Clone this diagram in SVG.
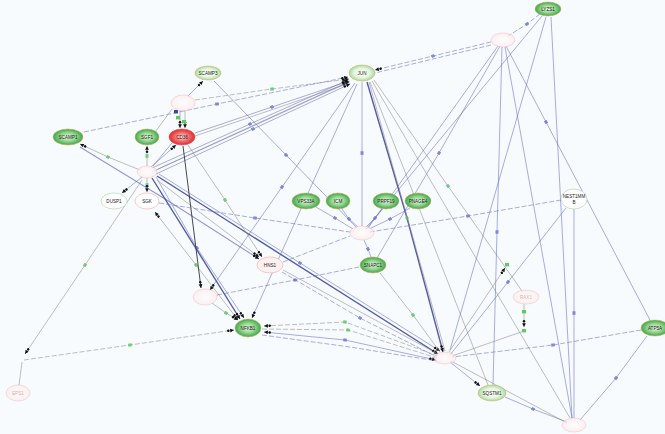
<svg xmlns="http://www.w3.org/2000/svg" width="665" height="434" viewBox="0 0 665 434">
<style>
.e{fill:none;stroke-width:.8}
.bl{stroke:#5a62c4;stroke-opacity:.65}
.bk{stroke:#2c3494;stroke-width:1.4;stroke-opacity:.8}
.gr{stroke:#8a8a8a;stroke-opacity:.7}
.kk{stroke:#333;stroke-width:.9}
.da{stroke-dasharray:5 2}
.mb{marker-mid:url(#sq)}
.mg{marker-mid:url(#sqg)}
.ar{marker-end:url(#arr)}
.as{marker-start:url(#arrs)}
.ng{fill:url(#gG);stroke:#d2b46a;stroke-width:.6}
.nl{fill:url(#gL);stroke:#c9b978;stroke-width:.6}
.nr{fill:url(#gR);stroke:#e65a5a;stroke-width:.6}
.np{fill:url(#gP);stroke:#f0b0b0;stroke-width:.6;opacity:.7}
.nw{fill:#fff;stroke:#b9d9a8;stroke-width:.7}
.nwp{fill:#fff;stroke:#f0b4b4;stroke-width:.7}
text{font-family:"Liberation Sans",Arial,sans-serif;font-size:4.6px;fill:#222;text-anchor:middle}
.tp{fill:#e8a8a8}
.gs{fill:#62c862}
</style>
<defs>
<radialGradient id="gG"><stop offset="0" stop-color="#eaf7e4"/><stop offset=".55" stop-color="#94d48d"/><stop offset="1" stop-color="#3aa64a"/></radialGradient>
<radialGradient id="gL"><stop offset="0" stop-color="#ffffff"/><stop offset=".6" stop-color="#e6f5de"/><stop offset="1" stop-color="#a8da9e"/></radialGradient>
<radialGradient id="gR"><stop offset="0" stop-color="#ffe4e4"/><stop offset=".5" stop-color="#f47272"/><stop offset="1" stop-color="#de2a2a"/></radialGradient>
<radialGradient id="gP"><stop offset="0" stop-color="#ffffff"/><stop offset="1" stop-color="#fdeaea"/></radialGradient>
<marker id="sq" viewBox="0 0 4 4" refX="2" refY="2" markerWidth="3.6" markerHeight="3.6" markerUnits="userSpaceOnUse" orient="auto"><rect width="4" height="3.4" y=".3" fill="#6b73d6" opacity=".8"/></marker>
<marker id="sqg" viewBox="0 0 4 4" refX="2" refY="2" markerWidth="3.6" markerHeight="3.6" markerUnits="userSpaceOnUse" orient="auto"><rect width="4" height="3.4" y=".3" fill="#62c862" opacity=".85"/></marker>
<marker id="arr" viewBox="0 0 10 6" refX="10" refY="3" markerWidth="7" markerHeight="4.2" markerUnits="userSpaceOnUse" orient="auto"><circle cx="1.8" cy="3" r="1.8" fill="#111"/><path d="M4.5,0.3 L10,3 L4.5,5.7 z" fill="#111"/></marker>
<marker id="arrs" viewBox="0 0 10 6" refX="0" refY="3" markerWidth="7" markerHeight="4.2" markerUnits="userSpaceOnUse" orient="auto"><circle cx="8.2" cy="3" r="1.8" fill="#111"/><path d="M5.5,0.3 L0,3 L5.5,5.7 z" fill="#111"/></marker>
</defs>
<rect width="665" height="434" fill="#f8fbfd"/>
<g id="connectors">
<path class="e bl da mb ar" d="M84,132 L217,104 L348,77"/>
<path class="e gr da mg ar" d="M195,100 L272,89 L349,79"/>
<path class="e gr" d="M156,131 L172,109"/>
<path class="e bl ar" d="M188,96 L203,81"/>
<path class="e bl mb" d="M214,81 L286,155 L357,228"/>
<path class="e bl mb ar" d="M152,168 L250,124 L348,80"/>
<path class="e bl ar" d="M154,171 L251,127 L349,82"/>
<path class="e bl mb ar" d="M156,174 L253,129 L350,84"/>
<path class="e gr" d="M158,169 L254,125 L350,81"/>
<path class="e bl mb ar" d="M195,133 L272,107 L349,81"/>
<path class="e gr" d="M195,136 L350,83"/>
<path class="e gr mg ar" d="M147,166 L147,156 L147,146"/>
<path class="e bl ar" d="M151,167 L176,145"/>
<path class="e bl" d="M172,143 L153,166"/>
<path class="e bl ar" d="M180,110 L180,128"/>
<path class="e gr ar" d="M185,110 L185,128"/>
<path class="e bl ar" d="M142,177 L122,193"/>
<path class="e gr mg ar" d="M147,178 L147,185 L147,192"/>
<path class="e gr mg as" d="M80,144 L108,157 L140,170"/>
<path class="e bl ar" style="stroke-width:1.1" d="M80,147 L170,202 L259,259"/>
<path class="e gr mg ar" d="M142,180 L85,265 L25,354"/>
<path class="e gr da mg ar" d="M24,360 L130,345 L234,330"/>
<path class="e gr" d="M22,362 L19,385"/>
<path class="e bk ar" d="M152,178 L240,319"/>
<path class="e bl mb ar" d="M156,177 L197,248 L244,318"/>
<path class="e bk ar" d="M157,176 L438,354"/>
<path class="e bl mb ar" d="M159,174 L300,263 L440,351"/>
<path class="e gr ar" d="M157,180 L259,257"/>
<path class="e gr mg ar as" d="M155,212 L196,265 L238,320"/>
<path class="e kk ar" d="M183,146 L201,288"/>
<path class="e gr mg ar" d="M188,145 L225,200 L262,257"/>
<path class="e bl mb ar" d="M355,83 L282,187 L210,290"/>
<path class="e bl ar" d="M357,84 L252,318"/>
<path class="e bl mb" d="M362,82 L362,153 L362,226"/>
<path class="e bk mg ar" d="M367,82 L407,218 L443,352"/>
<path class="e gr" d="M372,81 L570,418"/>
<path class="e gr" d="M370,82 L488,385"/>
<path class="e gr mg" d="M374,80 L448,186 L522,291"/>
<path class="e gr" d="M369,82 L445,351"/>
<path class="e bl da mb ar" d="M491,42 L433,56 L375,70"/>
<path class="e bl da" d="M491,45 L375,73"/>
<path class="e bl da mb" d="M540,14 L527,24 L508,36"/>
<path class="e bl" d="M542,16 L366,229"/>
<path class="e bl" d="M498,46 L368,228"/>
<path class="e bl" d="M546,17 L450,350"/>
<path class="e bl" d="M551,17 L572,418"/>
<path class="e bl mb" d="M502,47 L497,232 L493,385"/>
<path class="e bl mb" d="M506,46 L546,122 L650,320"/>
<path class="e bl" d="M505,47 L572,418"/>
<path class="e bl mb" d="M500,46 L439,153 L377,258"/>
<path class="e bl mb" d="M574,209 L574,313 L574,418"/>
<path class="e bl mb" d="M566,208 L508,282 L450,355"/>
<path class="e bl da mb" d="M561,200 L468,216 L370,232"/>
<path class="e bl da mb" d="M641,330 L553,345 L452,357"/>
<path class="e bl mb" d="M647,336 L616,378 L580,420"/>
<path class="e bl ar" d="M450,362 L480,386"/>
<path class="e bl mb" d="M505,397 L533,409 L567,422"/>
<path class="e gr" d="M451,361 L567,423"/>
<path class="e gr ar" d="M524,304 L524,327"/>
<path class="e gr" d="M524,331 L452,356"/>
<path class="e gr ar" d="M449,352 L505,268"/>
<path class="e gr da mg as" d="M264,326 L345,322 L438,356"/>
<path class="e gr da mg" d="M262,329 L348,330 L437,358"/>
<path class="e bl mb ar as" d="M264,332 L345,340 L436,360"/>
<path class="e bl da" d="M262,335 L350,347 L437,361"/>
<path class="e gr mg ar" d="M212,303 L226,313 L238,320"/>
<path class="e bl da mb" d="M217,295 L295,280 L359,267"/>
<path class="e bl da mb" d="M159,203 L255,218 L350,232"/>
<path class="e bl da" d="M283,262 L350,236"/>
<path class="e bl mb" d="M316,207 L335,218 L353,229"/>
<path class="e bl mb" d="M342,209 L349,219 L358,227"/>
<path class="e bl mb" d="M382,209 L375,218 L366,227"/>
<path class="e bl mb" d="M410,208 L390,219 L369,229"/>
<path class="e bl mb" d="M371,257 L368,249 L364,240"/>
<path class="e gr mg" d="M380,273 L413,315 L440,352"/>
<path class="e gr" d="M283,270 L438,354"/>
<path class="e bl da mb" d="M282,272 L360,318 L437,357"/>
<rect class="gs" x="522" y="310" width="4" height="3.4"/>
<rect class="gs" x="522" y="329" width="4" height="3.4"/>
<rect class="gs" x="505" y="263" width="4" height="3.4"/>
<rect class="gs" x="176" y="116" width="4" height="3.4"/>
<rect class="gs" x="182" y="120" width="4" height="3.4"/>
<rect x="174" y="110" width="4" height="3.4" fill="#3a44b0"/>
</g>
<g id="P2"><ellipse class="np" cx="183" cy="103" rx="12" ry="8"/></g>
<g id="H1"><ellipse class="np" cx="147" cy="172" rx="10" ry="6"/></g>
<g id="P1"><ellipse class="np" cx="503" cy="40" rx="12" ry="7"/></g>
<g id="P3"><ellipse class="np" cx="362" cy="233" rx="12" ry="7"/></g>
<g id="P4"><ellipse class="np" cx="205" cy="297" rx="12" ry="8"/></g>
<g id="P5"><ellipse class="np" cx="445" cy="358" rx="11" ry="6"/></g>
<g id="P6"><ellipse class="np" cx="574" cy="425" rx="12" ry="7"/></g>
<g id="LYZS1"><ellipse class="ng" cx="548" cy="9" rx="13" ry="7"/><text x="548" y="10.7">LYZS1</text></g>
<g id="SCAMP3"><ellipse class="nl" cx="208" cy="73" rx="13" ry="7"/><text x="208" y="74.7">SCAMP3</text></g>
<g id="JUN"><ellipse class="nl" cx="362" cy="73" rx="13" ry="8"/><text x="362" y="74.7">JUN</text></g>
<g id="SCAMP1"><ellipse class="ng" cx="68" cy="137" rx="15" ry="8"/><text x="68" y="138.7">SCAMP1</text></g>
<g id="SGF1"><ellipse class="ng" cx="147" cy="137" rx="12" ry="8"/><text x="147" y="138.7">SGF1</text></g>
<g id="CD36"><ellipse class="nr" cx="182" cy="137" rx="13" ry="8"/><text x="182" y="138.7">CD36</text></g>
<g id="DUSP1"><ellipse class="nw" cx="114" cy="201" rx="13" ry="8"/><text x="114" y="202.7">DUSP1</text></g>
<g id="SGK"><ellipse class="nwp" cx="147" cy="201" rx="12" ry="8"/><text x="147" y="202.7">SGK</text></g>
<g id="VPS33A"><ellipse class="ng" cx="306" cy="201" rx="14" ry="8"/><text x="306" y="202.7">VPS33A</text></g>
<g id="ICM"><ellipse class="ng" cx="338" cy="201" rx="12" ry="8"/><text x="338" y="202.7">ICM</text></g>
<g id="PRPF19"><ellipse class="ng" cx="386" cy="201" rx="13" ry="8"/><text x="386" y="202.7">PRPF19</text></g>
<g id="PNAGE4"><ellipse class="ng" cx="418" cy="201" rx="13" ry="8"/><text x="418" y="202.7">PNAGE4</text></g>
<g id="NEST1MMB"><ellipse class="nw" cx="574" cy="199" rx="13" ry="10"/><text x="574" y="198">NEST1MM</text><text x="574" y="204">B</text></g>
<g id="HNS1"><ellipse class="nwp" cx="270" cy="265" rx="13" ry="8" style="fill:#fdf0f0"/><text x="270" y="266.7">HNS1</text></g>
<g id="SNAPC1"><ellipse class="ng" cx="373" cy="265" rx="13" ry="8"/><text x="373" y="266.7">SNAPC1</text></g>
<g id="NFKB1"><ellipse class="ng" cx="248" cy="328" rx="13" ry="9"/><text x="248" y="329.7">NFKB1</text></g>
<g id="SQSTM1"><ellipse class="nl" cx="492" cy="393" rx="14" ry="8"/><text x="492" y="394.7">SQSTM1</text></g>
<g id="ATP5A"><ellipse class="ng" cx="655" cy="328" rx="14" ry="8"/><text x="655" y="329.7">ATP5A</text></g>
<g id="EPS1"><ellipse class="np" cx="18" cy="393" rx="12" ry="8"/><text class="tp" x="18" y="394.7">EPS1</text></g>
<g id="RAX1"><ellipse class="np" cx="526" cy="297" rx="13" ry="7"/><text class="tp" x="526" y="298.7">RAX1</text></g>
</svg>
